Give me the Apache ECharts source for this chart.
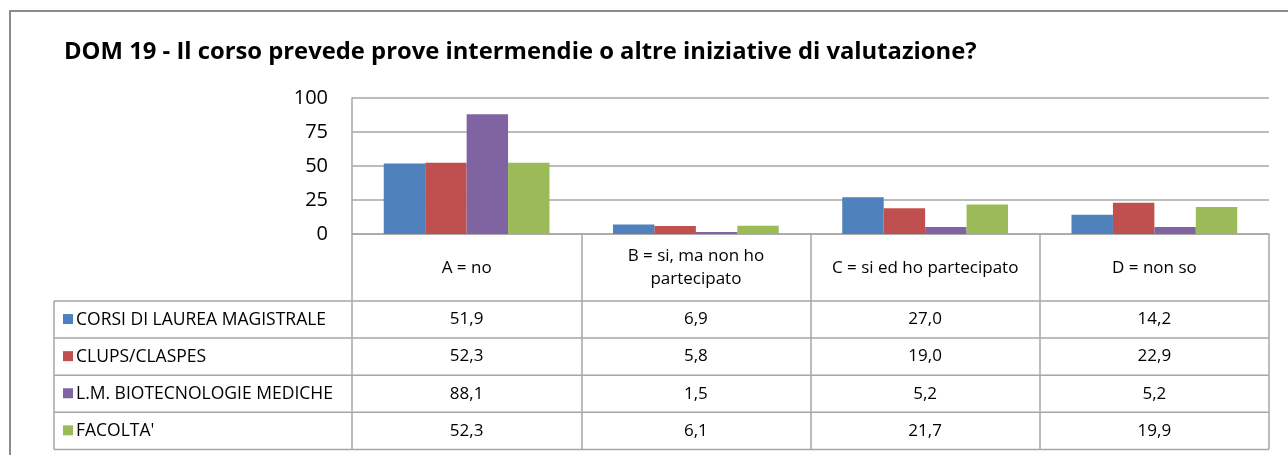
<!DOCTYPE html>
<html>
<head>
<meta charset="utf-8">
<script src="https://cdn.jsdelivr.net/npm/echarts@6/dist/echarts.min.js"></script>
<style>
html,body{margin:0;padding:0;background:#fff;}
#chart{width:1288px;height:455px;}
</style>
</head>
<body>
<div id="chart"></div>
<script>
// ---- data ----
const titleText = 'DOM 19 - Il corso prevede prove intermendie o altre iniziative di valutazione?';
const categories = ['A = no', 'B = si, ma non ho\npartecipato', 'C = si ed ho partecipato', 'D = non so'];
const seriesNames = ['CORSI DI LAUREA MAGISTRALE', 'CLUPS/CLASPES', 'L.M. BIOTECNOLOGIE MEDICHE', "FACOLTA'"];
const corsiLM = [51.9, 6.9, 27.0, 14.2];
const clupsClaspes = [52.3, 5.8, 19.0, 22.9];
const lmBiotec = [88.1, 1.5, 5.2, 5.2];
const facolta = [52.3, 6.1, 21.7, 19.9];
const yMin = 0, yMax = 100, yStep = 25;

const seriesData = [corsiLM, clupsClaspes, lmBiotec, facolta];
const colors = ['#4F81BD', '#C0504D', '#8064A2', '#9BBB59'];

// ---- layout ----
const FONT = 'Open Sans';
const gridLeft = 352, gridTop = 98, gridRight = 1269, gridBottom = 234;
const tableLeft = 54, headerBottom = 301, rowH = 37.1;
const tableBottom = headerBottom + rowH * 4;
const gray = '#a6a6a6';

const chart = echarts.init(document.getElementById('chart'), null, {renderer: 'canvas'});

const option = {
  animation: false,
  backgroundColor: '#fff',
  color: colors,
  title: {
    text: titleText,
    left: 59, top: 35,
    textStyle: {fontFamily: FONT, fontSize: 23.8, fontWeight: 'bold', color: '#000'}
  },
  legend: {show: false, data: seriesNames},
  grid: {left: gridLeft, top: gridTop, width: gridRight - gridLeft, height: gridBottom - gridTop, containLabel: false},
  xAxis: {
    type: 'category',
    data: categories,
    axisLine: {show: true, lineStyle: {color: gray, width: 1.5}},
    axisTick: {show: true, interval: 0, length: tableBottom - gridBottom, lineStyle: {color: gray, width: 1.5}},
    axisLabel: {interval: 0, margin: 34, verticalAlign: 'middle', fontFamily: FONT, fontSize: 17, lineHeight: 23, color: '#000'},
    splitLine: {show: false}
  },
  yAxis: {
    type: 'value',
    min: yMin, max: yMax, interval: yStep,
    axisLine: {show: true, lineStyle: {color: gray, width: 1.5}},
    axisTick: {show: false},
    axisLabel: {margin: 24, fontFamily: FONT, fontSize: 20, color: '#000'},
    splitLine: {lineStyle: {color: gray, width: 1.5}}
  },
  series: seriesNames.map((name, i) => ({
    name: name,
    type: 'bar',
    data: seriesData[i],
    barGap: '0%',
    barCategoryGap: '27.7%',
    itemStyle: {color: colors[i]}
  }))
};
chart.setOption(option);

// ---- table (built from the same arrays) ----
const fmt = v => v.toFixed(1).replace('.', ',');
const g = [];
// outer frame
g.push({type: 'rect', shape: {x: 10, y: 11, width: 1300, height: 500},
  style: {fill: null, stroke: '#8c8c8c', lineWidth: 2}, silent: true});
// horizontal table lines
for (let r = 0; r <= 4; r++) {
  const y = headerBottom + rowH * r;
  g.push({type: 'line', shape: {x1: tableLeft, y1: y, x2: gridRight, y2: y},
    style: {stroke: gray, lineWidth: 1.5}, silent: true});
}
// left border of legend column
g.push({type: 'line', shape: {x1: tableLeft, y1: headerBottom, x2: tableLeft, y2: tableBottom},
  style: {stroke: gray, lineWidth: 1.5}, silent: true});
// legend keys + values
seriesData.forEach((arr, r) => {
  const cy = headerBottom + rowH * (r + 0.5);
  g.push({type: 'rect', shape: {x: 63, y: cy - 5.5, width: 10, height: 10},
    style: {fill: colors[r]}, silent: true});
  g.push({type: 'text', x: 76, y: cy, silent: true,
    style: {text: seriesNames[r], fontFamily: FONT, fontSize: 17.5, fill: '#000', align: 'left', verticalAlign: 'middle'}});
  arr.forEach((v, c) => {
    const cx = chart.convertToPixel({xAxisIndex: 0}, c);
    g.push({type: 'text', x: cx, y: cy, silent: true,
      style: {text: fmt(v), fontFamily: FONT, fontSize: 17, fill: '#000', align: 'center', verticalAlign: 'middle'}});
  });
});
chart.setOption({graphic: {elements: g}});
</script>
</body>
</html>
